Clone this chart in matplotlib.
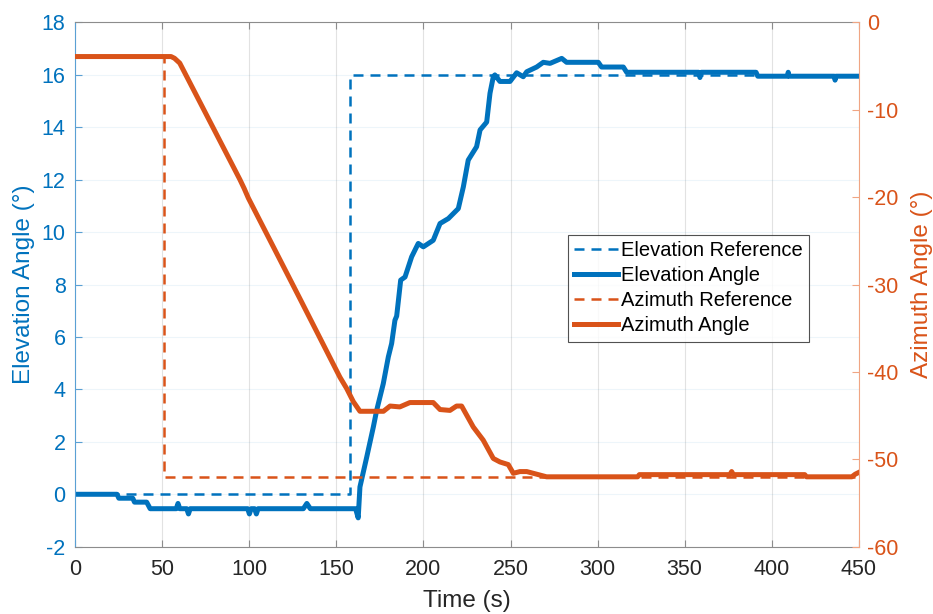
import matplotlib
matplotlib.use("Agg")
import matplotlib.pyplot as plt

plt.rcParams['font.family'] = ['Liberation Sans', 'DejaVu Sans']
plt.rcParams['axes.unicode_minus'] = False

# colours (MATLAB defaults)
blue = '#0072BD'
orange = '#D95319'

# Elevation reference (deg, left axis)
elev_ref_t = [0, 158, 158, 450]
elev_ref = [0, 0, 16, 16]

# Elevation angle (deg, left axis)
elev_t = [0, 24, 25, 33, 34, 41, 43, 58, 59, 60, 64, 65, 66, 99, 100, 101,
          103, 104, 105, 131, 133, 135, 161, 162.5, 163.5, 167.4, 171.2,
          173.1, 176.9, 179.8, 181.7, 183.6, 184.6, 186.9, 189.4, 193.2, 197,
          199.9, 205.6, 209.5, 214.3, 220, 222.9, 225.7, 230.5, 232.5, 236.3,
          238.2, 240.1, 241, 243.9, 249.7, 253.5, 257.3, 259.3, 265, 268.8,
          272.7, 279.4, 282.2, 300.4, 302.3, 314.8, 316.7, 358, 358.8, 359.6,
          391, 392, 409, 409.5, 410, 436, 436.4, 437, 450]
elev = [0, 0, -0.15, -0.15, -0.3, -0.3, -0.55, -0.55, -0.35, -0.55, -0.55,
        -0.75, -0.55, -0.55, -0.75, -0.55, -0.55, -0.75, -0.55, -0.55, -0.35,
        -0.55, -0.55, -0.9, 0.28, 1.42, 2.57, 3.2, 4.22, 5.24, 5.75, 6.64,
        6.8, 8.17, 8.29, 9.06, 9.57, 9.44, 9.69, 10.33, 10.52, 10.9, 11.73,
        12.75, 13.26, 13.9, 14.2, 15.3, 15.93, 16.0, 15.75, 15.75, 16.08,
        15.93, 16.12, 16.3, 16.48, 16.44, 16.63, 16.48, 16.48, 16.3, 16.3,
        16.1, 16.1, 15.9, 16.1, 16.1, 15.95, 15.95, 16.1, 15.95, 15.95, 15.8,
        15.95, 15.95]

# Azimuth reference (deg, right axis)
azim_ref_t = [0, 51, 51, 450]
azim_ref = [-3.9, -3.9, -52, -52]

# Azimuth angle (deg, right axis)
azim_t = [0, 55, 57, 60, 94.6, 97, 99.4, 129, 152, 155.9, 159.7, 163.5, 177,
          180.8, 186.4, 192.2, 205.6, 209.5, 215.2, 219, 221.9, 228.6, 234.3,
          240.1, 243.9, 248.7, 251.6, 255.4, 259.3, 266.9, 270.7, 323, 324,
          376, 377, 378, 419, 420, 446, 448, 450]
azim = [-3.9, -3.9, -4.1, -4.65, -18.0, -19.0, -20.1, -31.6, -40.6, -41.9,
        -43.4, -44.5, -44.5, -43.9, -44.0, -43.5, -43.5, -44.3, -44.4, -43.9,
        -43.9, -46.3, -47.8, -49.9, -50.3, -50.6, -51.6, -51.4, -51.4, -51.8,
        -52.0, -52.0, -51.75, -51.75, -51.4, -51.75, -51.75, -52.0, -52.0,
        -51.7, -51.5]

fig = plt.figure(figsize=(9.33, 6.14), dpi=100)
ax1 = fig.add_axes([0.0807, 0.1096, 0.8397, 0.8538])
ax2 = ax1.twinx()

l1, = ax1.plot(elev_ref_t, elev_ref, color=blue, lw=1.8, dashes=(4, 2.8),
               label='Elevation Reference')
l2, = ax1.plot(elev_t, elev, color=blue, lw=3.6, solid_joinstyle='round',
               label='Elevation Angle')
l3, = ax2.plot(azim_ref_t, azim_ref, color=orange, lw=1.8, dashes=(4, 2.8),
               label='Azimuth Reference')
l4, = ax2.plot(azim_t, azim, color=orange, lw=3.6, solid_joinstyle='round',
               label='Azimuth Angle')

ax1.set_xlim(0, 450)
ax1.set_ylim(-2, 18)
ax2.set_ylim(-60, 0)
ax1.set_xticks(range(0, 451, 50))
ax1.set_yticks(range(-2, 19, 2))
ax2.set_yticks(range(-60, 1, 10))

ax1.grid(True, axis='x', color='#262626', alpha=0.13, lw=0.8)
ax1.grid(True, axis='y', color=blue, alpha=0.07, lw=0.8)
ax1.set_axisbelow(True)

# spines and ticks
for s in ['top', 'bottom']:
    ax1.spines[s].set_color('#8c8c8c')
ax1.spines['left'].set_color('#5aa0d4')
ax2.spines['left'].set_visible(False)
ax2.spines['top'].set_visible(False)
ax2.spines['bottom'].set_visible(False)
ax2.spines['right'].set_color('#f0a583')
ax1.spines['right'].set_visible(False)

ax1.tick_params(axis='x', direction='in', top=True, colors='#8c8c8c',
                labelcolor='#262626', labelsize=15.5, length=5, pad=9)
ax1.tick_params(axis='y', direction='in', colors='#5aa0d4', labelcolor=blue,
                labelsize=15.5, length=5, pad=7)
ax2.tick_params(axis='y', direction='in', colors='#f0a583', labelcolor=orange,
                labelsize=15.5, length=5, pad=6)

ax1.set_xlabel('Time (s)', fontsize=17.5, color='#262626', labelpad=7)
ax1.set_ylabel('Elevation Angle (°)', fontsize=17.5, color=blue, labelpad=5)
ax2.set_ylabel('Azimuth Angle (°)', fontsize=17.5, color=orange, labelpad=9)

leg = ax2.legend(handles=[l1, l2, l3, l4], loc='upper left',
                 bbox_to_anchor=(0.629, 0.594), fontsize=14.5,
                 frameon=True, fancybox=False, handlelength=2.2,
                 handletextpad=0.15, labelspacing=0.3, borderpad=0.3,
                 borderaxespad=0)
leg.get_frame().set_edgecolor('#262626')
leg.get_frame().set_linewidth(0.8)

fig.savefig('out.png', dpi=100)
